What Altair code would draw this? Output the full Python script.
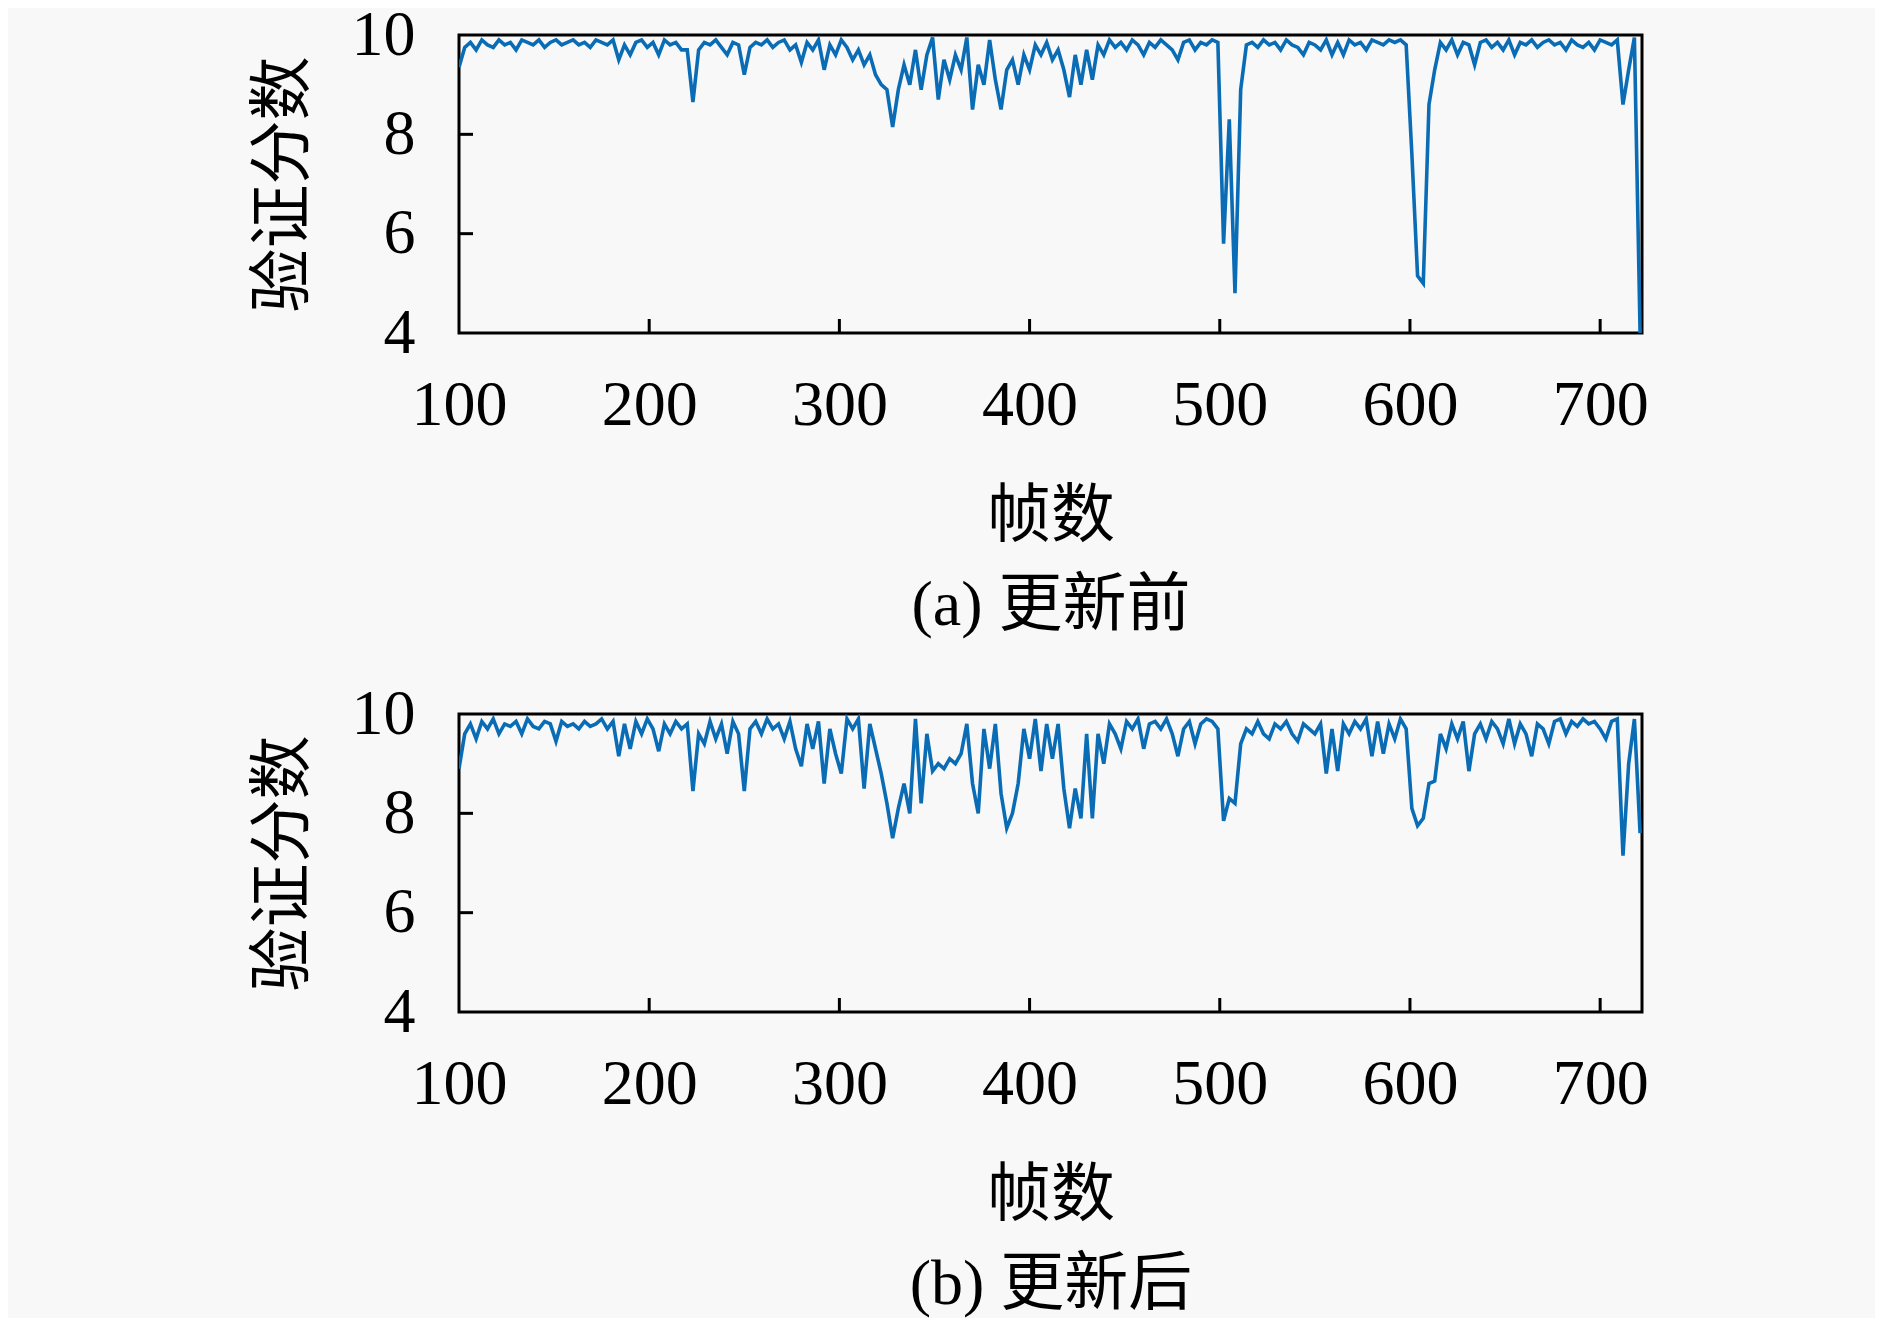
import altair as alt
import pandas as pd

# frame numbers (x): every 3rd frame from 100 to 721
frames = list(range(100, 722, 3))

# validation score before update (a)
score_before = [
    9.35, 9.75, 9.85, 9.7, 9.9, 9.8, 9.75, 9.9, 9.8, 9.85,
    9.7, 9.9, 9.85, 9.8, 9.9, 9.75, 9.85, 9.9, 9.8, 9.85,
    9.9, 9.8, 9.85, 9.75, 9.9, 9.85, 9.8, 9.9, 9.5, 9.8,
    9.6, 9.85, 9.9, 9.75, 9.85, 9.6, 9.9, 9.8, 9.85, 9.7,
    9.7, 8.65, 9.7, 9.85, 9.8, 9.9, 9.75, 9.6, 9.85, 9.8,
    9.2, 9.75, 9.85, 9.8, 9.9, 9.75, 9.85, 9.9, 9.7, 9.8,
    9.45, 9.85, 9.7, 9.9, 9.3, 9.8, 9.6, 9.9, 9.75, 9.5,
    9.7, 9.4, 9.6, 9.2, 9.0, 8.9, 8.15, 8.9, 9.4, 9.0,
    9.7, 8.9, 9.6, 9.95, 8.7, 9.5, 9.1, 9.6, 9.3, 9.95,
    8.5, 9.4, 9.0, 9.9, 9.1, 8.5, 9.3, 9.5, 9.0, 9.6,
    9.3, 9.8, 9.6, 9.85, 9.5, 9.7, 9.3, 8.75, 9.6, 9.0,
    9.7, 9.1, 9.8, 9.6, 9.9, 9.75, 9.85, 9.7, 9.9, 9.8,
    9.6, 9.85, 9.75, 9.9, 9.8, 9.7, 9.5, 9.85, 9.9, 9.7,
    9.85, 9.8, 9.9, 9.85, 5.8, 8.3, 4.8, 8.9, 9.8, 9.85,
    9.75, 9.9, 9.8, 9.85, 9.7, 9.9, 9.8, 9.75, 9.6, 9.85,
    9.8, 9.7, 9.9, 9.6, 9.85, 9.6, 9.9, 9.8, 9.85, 9.7,
    9.9, 9.85, 9.8, 9.9, 9.85, 9.9, 9.8, 7.6, 5.15, 5.0,
    8.6, 9.3, 9.85, 9.7, 9.9, 9.6, 9.85, 9.8, 9.4, 9.85,
    9.9, 9.75, 9.85, 9.7, 9.9, 9.6, 9.85, 9.8, 9.9, 9.75,
    9.85, 9.9, 9.8, 9.85, 9.7, 9.9, 9.8, 9.75, 9.85, 9.7,
    9.9, 9.85, 9.8, 9.9, 8.6, 9.3, 9.95, 4.0,
]

# validation score after update (b)
score_after = [
    8.9, 9.6, 9.8, 9.5, 9.85, 9.7, 9.9, 9.6, 9.8, 9.75,
    9.85, 9.6, 9.9, 9.75, 9.7, 9.85, 9.8, 9.45, 9.85, 9.75,
    9.8, 9.7, 9.85, 9.75, 9.8, 9.9, 9.7, 9.85, 9.15, 9.8,
    9.3, 9.85, 9.6, 9.9, 9.7, 9.25, 9.8, 9.6, 9.85, 9.7,
    9.8, 8.45, 9.6, 9.4, 9.85, 9.5, 9.8, 9.2, 9.85, 9.6,
    8.45, 9.7, 9.85, 9.6, 9.9, 9.7, 9.8, 9.5, 9.85, 9.3,
    8.95, 9.8, 9.3, 9.85, 8.6, 9.7, 9.2, 8.8, 9.9, 9.7,
    9.9, 8.5, 9.8, 9.3, 8.8, 8.2, 7.5, 8.1, 8.6, 8.0,
    9.9, 8.2, 9.6, 8.85, 9.0, 8.9, 9.1, 9.0, 9.2, 9.8,
    8.6, 8.0, 9.7, 8.9, 9.8, 8.4, 7.7, 8.0, 8.6, 9.7,
    9.1, 9.9, 8.85, 9.8, 9.1, 9.8, 8.5, 7.7, 8.5, 7.9,
    9.6, 7.9, 9.6, 9.0, 9.8, 9.6, 9.3, 9.85, 9.7, 9.9,
    9.3, 9.8, 9.85, 9.7, 9.9, 9.6, 9.15, 9.7, 9.85, 9.4,
    9.8, 9.9, 9.85, 9.7, 7.85, 8.3, 8.2, 9.4, 9.7, 9.6,
    9.85, 9.6, 9.5, 9.8, 9.7, 9.85, 9.6, 9.45, 9.8, 9.7,
    9.6, 9.8, 8.8, 9.7, 8.85, 9.8, 9.6, 9.85, 9.7, 9.9,
    9.15, 9.85, 9.2, 9.8, 9.5, 9.9, 9.7, 8.1, 7.75, 7.9,
    8.6, 8.65, 9.6, 9.3, 9.8, 9.5, 9.85, 8.85, 9.6, 9.8,
    9.5, 9.85, 9.7, 9.4, 9.9, 9.4, 9.8, 9.6, 9.15, 9.8,
    9.7, 9.4, 9.85, 9.9, 9.6, 9.85, 9.75, 9.9, 9.8, 9.85,
    9.7, 9.5, 9.85, 9.9, 7.15, 9.0, 9.9, 7.6,
]

x_ticks = [100, 200, 300, 400, 500, 600, 700]
y_ticks = [4, 6, 8, 10]
inner_x_ticks = [200, 300, 400, 500, 600, 700]
inner_y_ticks = [6, 8]

x_title = "帧数"
y_title = "验证分数"
captions = ["(a) 更新前", "(b) 更新后"]

FONT = "Liberation Serif, Noto Sans CJK SC"
LINE_COLOR = "#0a6cb5"
W, H = 1183, 298
TICK_LEN = 14

x_scale = alt.Scale(domain=[100, 722], nice=False, zero=False)
y_scale = alt.Scale(domain=[4, 10], nice=False, zero=False)


def panel(values, caption):
    x_axis = alt.Axis(values=x_ticks, title=[x_title, caption],
                      titleLineHeight=89, titlePadding=47,
                      labelPadding=40, labelFlush=False, labelOverlap=False,
                      grid=False, ticks=False, domain=False, format="d")
    y_axis = alt.Axis(values=y_ticks, title=y_title, titlePadding=36,
                      labelPadding=44, labelFlush=False, labelOverlap=False,
                      grid=False, ticks=False, domain=False, format="d")
    df = pd.DataFrame({"frame": frames, "score": values})
    line = alt.Chart(df).mark_line(color=LINE_COLOR, strokeWidth=3.6, clip=True).encode(
        x=alt.X("frame:Q", scale=x_scale, axis=x_axis),
        y=alt.Y("score:Q", scale=y_scale, axis=y_axis),
    )
    xt = alt.Chart(pd.DataFrame({"frame": inner_x_ticks})).mark_rule(
        color="black", strokeWidth=3).encode(
        x=alt.X("frame:Q", scale=x_scale, axis=x_axis),
        y=alt.value(H), y2=alt.value(H - TICK_LEN))
    yt = alt.Chart(pd.DataFrame({"score": inner_y_ticks})).mark_rule(
        color="black", strokeWidth=3).encode(
        y=alt.Y("score:Q", scale=y_scale, axis=y_axis),
        x=alt.value(0), x2=alt.value(TICK_LEN))
    return alt.layer(line, xt, yt).properties(width=W, height=H)


chart = alt.vconcat(
    panel(score_before, captions[0]),
    panel(score_after, captions[1]),
    spacing=41,
).properties(
    padding={"left": 241, "top": -7, "right": 225, "bottom": 0},
    background="#f8f8f8",
).configure_view(
    stroke="black", strokeWidth=3
).configure_axis(
    labelFont=FONT, titleFont=FONT, labelFontSize=64, titleFontSize=64,
    labelColor="black", titleColor="black", titleFontWeight="normal",
)

chart.save("out.html", embed_options={"renderer": "svg", "actions": False})
